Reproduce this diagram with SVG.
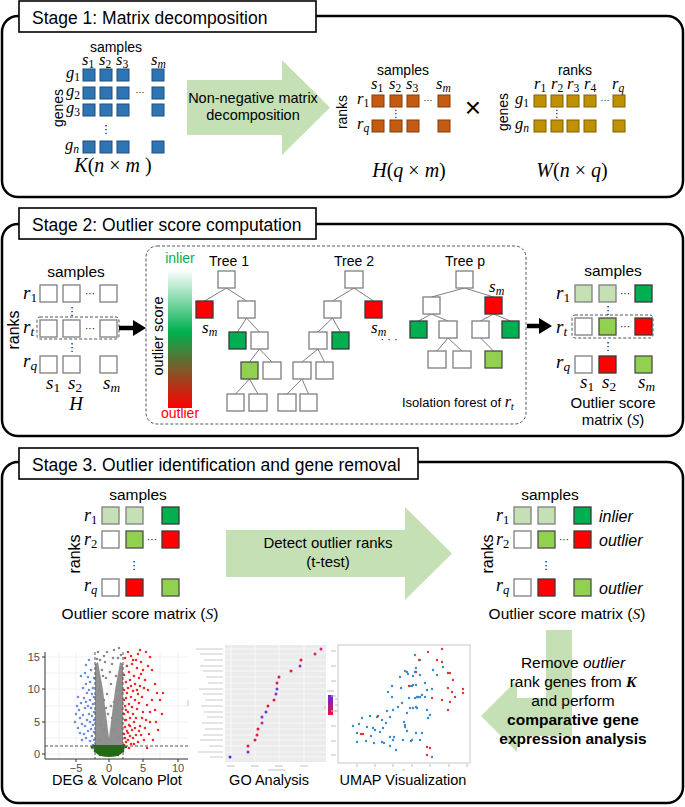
<svg xmlns="http://www.w3.org/2000/svg" width="685" height="807" viewBox="0 0 685 807">
<defs>
<style>
.t{font-family:"Liberation Sans",Arial,sans-serif;fill:#000}
.ttl{font-size:17.5px}
.mth{font-family:"Liberation Serif","Times New Roman",serif;font-style:italic;fill:#000}
.up{font-style:normal}
.sb{font-style:normal;font-size:70%}
.sbi{font-size:70%}
.stage{fill:#fff;stroke:#000;stroke-width:2.5}
.tbox{fill:#fff;stroke:#000;stroke-width:1.6}
.bl{fill:#2e75b6;stroke:#1f4e79;stroke-width:1}
.or{fill:#c55a11;stroke:#843c0c;stroke-width:1}
.gd{fill:#bf9000;stroke:#7f6000;stroke-width:1}
.w{fill:#fff;stroke:#7f7f7f;stroke-width:1.3}
.lg{fill:#c5e0b4;stroke:#7f7f7f;stroke-width:1.3}
.mg{fill:#92d050;stroke:#4d4d4d;stroke-width:1.3}
.dg{fill:#00b050;stroke:#3a3a3a;stroke-width:1.3}
.rd{fill:#ff0000;stroke:#3a3a3a;stroke-width:1.3}
.edge{stroke:#7f7f7f;stroke-width:1;fill:none}
.dash{fill:none;stroke:#555;stroke-width:1;stroke-dasharray:3 2}
.big{fill:#c5e0b4}
.dots{font-family:"DejaVu Sans",sans-serif;fill:#000}
</style>
<linearGradient id="sc" x1="0" y1="0" x2="0" y2="1">
<stop offset="0" stop-color="#ffffff"/>
<stop offset="0.45" stop-color="#00b050"/>
<stop offset="1" stop-color="#ff0000"/>
</linearGradient>
<linearGradient id="leg" x1="0" y1="0" x2="0" y2="1">
<stop offset="0" stop-color="#5b2cf0"/>
<stop offset="1" stop-color="#f01030"/>
</linearGradient>
</defs>
<rect width="685" height="807" fill="#fff"/>

<!-- ============ Stage 1 ============ -->
<g id="stage1">
<rect class="stage" x="2" y="16" width="681" height="181" rx="16"/>
<rect class="tbox" x="19" y="1" width="297" height="31"/>
<text class="t ttl" x="32" y="24">Stage 1: Matrix decomposition</text>
</g>

<g id="matrixK">
<text class="t" x="116" y="52" font-size="14" text-anchor="middle">samples</text>
<g class="mth" font-size="16.5">
<text x="82" y="65">s<tspan class="sb" dy="3">1</tspan></text>
<text x="99" y="65">s<tspan class="sb" dy="3">2</tspan></text>
<text x="116" y="65">s<tspan class="sb" dy="3">3</tspan></text>
<text x="151" y="65">s<tspan class="sbi" dy="3">m</tspan></text>
<text x="66" y="78">g<tspan class="sb" dy="3">1</tspan></text>
<text x="66" y="96">g<tspan class="sb" dy="3">2</tspan></text>
<text x="66" y="113">g<tspan class="sb" dy="3">3</tspan></text>
<text x="65" y="150">g<tspan class="sbi" dy="3">n</tspan></text>
</g>
<text class="t" font-size="14" text-anchor="middle" transform="translate(58,108) rotate(-90)" dy="5">genes</text>
<g>
<rect class="bl" x="83" y="69" width="12" height="12"/><rect class="bl" x="100" y="69" width="12" height="12"/><rect class="bl" x="117" y="69" width="12" height="12"/><rect class="bl" x="152" y="69" width="12" height="12"/>
<rect class="bl" x="83" y="87" width="12" height="12"/><rect class="bl" x="100" y="87" width="12" height="12"/><rect class="bl" x="117" y="87" width="12" height="12"/><rect class="bl" x="152" y="87" width="12" height="12"/>
<rect class="bl" x="83" y="104" width="12" height="12"/><rect class="bl" x="100" y="104" width="12" height="12"/><rect class="bl" x="117" y="104" width="12" height="12"/><rect class="bl" x="152" y="104" width="12" height="12"/>
<rect class="bl" x="83" y="141" width="12" height="12"/><rect class="bl" x="100" y="141" width="12" height="12"/><rect class="bl" x="117" y="141" width="12" height="12"/><rect class="bl" x="152" y="141" width="12" height="12"/>
</g>
<text class="t" x="140" y="95" font-size="9" text-anchor="middle">···</text>
<text class="dots" x="106" y="133" font-size="11" text-anchor="middle">⋮</text>
<text class="mth" x="113" y="172" font-size="20" text-anchor="middle">K<tspan class="up">(</tspan>n<tspan class="up"> × </tspan>m<tspan class="up"> )</tspan></text>
</g>

<g id="nmfArrow">
<path class="big" d="M187 80 L282 80 L282 60 L330 107.5 L282 155 L282 135 L187 135 Z"/>
<text class="t" x="253" y="103" font-size="14.5" text-anchor="middle">Non-negative matrix</text>
<text class="t" x="253" y="120" font-size="14.5" text-anchor="middle">decomposition</text>
</g>

<g id="matrixH">
<text class="t" x="403" y="75" font-size="14" text-anchor="middle">samples</text>
<text class="t" font-size="14" text-anchor="middle" transform="translate(342,112) rotate(-90)" dy="5">ranks</text>
<g class="mth" font-size="16.5">
<text x="371" y="89">s<tspan class="sb" dy="3">1</tspan></text>
<text x="389" y="89">s<tspan class="sb" dy="3">2</tspan></text>
<text x="406" y="89">s<tspan class="sb" dy="3">3</tspan></text>
<text x="436" y="89">s<tspan class="sbi" dy="3">m</tspan></text>
<text x="357" y="104">r<tspan class="sb" dy="3">1</tspan></text>
<text x="357" y="129">r<tspan class="sbi" dy="3">q</tspan></text>
</g>
<rect class="or" x="372" y="95" width="12" height="12"/><rect class="or" x="390" y="95" width="12" height="12"/><rect class="or" x="407" y="95" width="12" height="12"/><rect class="or" x="438" y="95" width="12" height="12"/>
<rect class="or" x="372" y="120" width="12" height="12"/><rect class="or" x="390" y="120" width="12" height="12"/><rect class="or" x="407" y="120" width="12" height="12"/><rect class="or" x="438" y="120" width="12" height="12"/>
<text class="t" x="428" y="103" font-size="9" text-anchor="middle">···</text>
<text class="dots" x="396" y="117" font-size="10" text-anchor="middle">⋮</text>
<text class="mth" x="409" y="177" font-size="20" text-anchor="middle">H<tspan class="up">(</tspan>q<tspan class="up"> × </tspan>m<tspan class="up">)</tspan></text>
</g>

<text class="t" x="473" y="117" font-size="28" text-anchor="middle">×</text>

<g id="matrixW">
<text class="t" x="575" y="75" font-size="14" text-anchor="middle">ranks</text>
<text class="t" font-size="14" text-anchor="middle" transform="translate(503,112) rotate(-90)" dy="5">genes</text>
<g class="mth" font-size="16.5">
<text x="534" y="89">r<tspan class="sb" dy="3">1</tspan></text>
<text x="551" y="89">r<tspan class="sb" dy="3">2</tspan></text>
<text x="567" y="89">r<tspan class="sb" dy="3">3</tspan></text>
<text x="584" y="89">r<tspan class="sb" dy="3">4</tspan></text>
<text x="612" y="89">r<tspan class="sbi" dy="3">q</tspan></text>
<text x="515" y="104">g<tspan class="sb" dy="3">1</tspan></text>
<text x="515" y="129">g<tspan class="sbi" dy="3">n</tspan></text>
</g>
<rect class="gd" x="534" y="95" width="12" height="12"/><rect class="gd" x="551" y="95" width="12" height="12"/><rect class="gd" x="567" y="95" width="12" height="12"/><rect class="gd" x="584" y="95" width="12" height="12"/><rect class="gd" x="613" y="95" width="12" height="12"/>
<rect class="gd" x="534" y="120" width="12" height="12"/><rect class="gd" x="551" y="120" width="12" height="12"/><rect class="gd" x="567" y="120" width="12" height="12"/><rect class="gd" x="584" y="120" width="12" height="12"/><rect class="gd" x="613" y="120" width="12" height="12"/>
<text class="t" x="605" y="103" font-size="9" text-anchor="middle">···</text>
<text class="dots" x="557" y="117" font-size="10" text-anchor="middle">⋮</text>
<text class="mth" x="572" y="177" font-size="20" text-anchor="middle">W<tspan class="up">(</tspan>n<tspan class="up"> × </tspan>q<tspan class="up">)</tspan></text>
</g>

<!-- ============ Stage 2 ============ -->
<g id="stage2">
<rect class="stage" x="2" y="224" width="681" height="212" rx="16"/>
<rect class="tbox" x="19" y="208" width="297" height="31"/>
<text class="t ttl" x="32" y="231">Stage 2: Outlier score computation</text>
</g>

<g id="matrixH2">
<text class="t" x="76" y="277" font-size="15.5" text-anchor="middle">samples</text>
<text class="t" font-size="16" text-anchor="middle" transform="translate(13,330) rotate(-90)" dy="5.5">ranks</text>
<g class="mth" font-size="19">
<text x="23" y="299">r<tspan class="sb" dy="3">1</tspan></text>
<text x="23" y="333">r<tspan class="sbi" dy="3">t</tspan></text>
<text x="23" y="367">r<tspan class="sbi" dy="3">q</tspan></text>
<text x="46" y="389">s<tspan class="sb" dy="3">1</tspan></text>
<text x="68" y="389">s<tspan class="sb" dy="3">2</tspan></text>
<text x="103" y="389">s<tspan class="sbi" dy="3">m</tspan></text>
<text x="76" y="410" text-anchor="middle">H</text>
</g>
<rect class="w" x="40" y="285" width="17" height="17"/><rect class="w" x="63" y="285" width="17" height="17"/><rect class="w" x="100" y="285" width="17" height="17"/>
<rect class="w" x="40" y="320" width="17" height="17"/><rect class="w" x="63" y="320" width="17" height="17"/><rect class="w" x="100" y="320" width="17" height="17"/>
<rect class="w" x="40" y="356" width="17" height="17"/><rect class="w" x="63" y="356" width="17" height="17"/><rect class="w" x="100" y="356" width="17" height="17"/>
<rect class="dash" x="37" y="317" width="82" height="22" rx="3"/>
<text class="t" x="90" y="297" font-size="10" text-anchor="middle">···</text>
<text class="t" x="90" y="332" font-size="10" text-anchor="middle">···</text>
<text class="dots" x="72" y="315" font-size="11" text-anchor="middle">⋮</text>
<text class="dots" x="72" y="351" font-size="11" text-anchor="middle">⋮</text>
</g>

<g id="forest">
<rect class="dash" x="146" y="246" width="380" height="178" rx="11"/>
<rect x="168" y="270" width="24" height="138" fill="url(#sc)"/>
<text class="t" x="180" y="263" font-size="14" text-anchor="middle" style="fill:#00b050">inlier</text>
<text class="t" x="180" y="418" font-size="14" text-anchor="middle" style="fill:#ff0000">outlier</text>
<text class="t" font-size="14.5" text-anchor="middle" transform="translate(158,336) rotate(-90)" dy="5">outlier score</text>
<text class="t" x="229" y="266" font-size="14" text-anchor="middle">Tree 1</text>
<text class="t" x="354" y="266" font-size="14" text-anchor="middle">Tree 2</text>
<text class="t" x="465" y="266" font-size="14" text-anchor="middle">Tree  p</text>
<g class="mth" font-size="17">
<text x="202" y="333">s<tspan class="sbi" dy="3">m</tspan></text>
<text x="371" y="333">s<tspan class="sbi" dy="3">m</tspan></text>
<text x="489" y="292">s<tspan class="sbi" dy="3">m</tspan></text>
</g>
<text class="t" x="389" y="343" font-size="11" text-anchor="middle">· · ·</text>
<text class="t" x="402" y="407" font-size="13">Isolation forest of <tspan class="mth" font-size="16">r<tspan class="sbi" dy="3">t</tspan></tspan></text>
</g>

<g id="treeEdges">
<path class="edge" d="M226.5 288 L204.5 301 M226.5 288 L246.5 301 M246.5 318 L237.5 332 M246.5 318 L259.5 332 M259.5 349 L249.5 362 M259.5 349 L272 362 M249.5 379 L235.5 394 M249.5 379 L258 394"/>
<path class="edge" d="M354 288 L332.5 301 M354 288 L373.5 301 M332.5 318 L318 332 M332.5 318 L340.5 332 M318 349 L302 362 M318 349 L324.5 362 M302 379 L287 394 M302 379 L308.5 394"/>
<path class="edge" d="M464.5 288 L431.5 297 M464.5 288 L493.5 297 M431.5 314 L418.5 321 M431.5 314 L448 321 M493.5 314 L480.5 321 M493.5 314 L510.5 321 M448 338 L437 351 M448 338 L462 351 M480.5 338 L493.5 351"/>
</g>

<g id="tree1">
<rect class="w" x="218" y="271" width="17" height="17"/>
<rect class="rd" x="196" y="301" width="17" height="17"/>
<rect class="w" x="238" y="301" width="17" height="17"/>
<rect class="dg" x="229" y="332" width="17" height="17"/>
<rect class="w" x="251" y="332" width="17" height="17"/>
<rect class="mg" x="241" y="362" width="17" height="17"/>
<rect class="w" x="263" y="362" width="18" height="17"/>
<rect class="w" x="227" y="394" width="17" height="17"/>
<rect class="w" x="249" y="394" width="18" height="17"/>
</g>
<g id="tree2">
<rect class="w" x="345" y="271" width="18" height="17"/>
<rect class="w" x="324" y="301" width="17" height="17"/>
<rect class="rd" x="365" y="301" width="17" height="17"/>
<rect class="w" x="309" y="332" width="18" height="17"/>
<rect class="dg" x="332" y="332" width="17" height="17"/>
<rect class="w" x="293" y="362" width="18" height="17"/>
<rect class="w" x="316" y="362" width="17" height="17"/>
<rect class="w" x="278" y="394" width="18" height="17"/>
<rect class="w" x="300" y="394" width="17" height="17"/>
</g>
<g id="treeP">
<rect class="w" x="456" y="271" width="17" height="17"/>
<rect class="w" x="423" y="297" width="17" height="17"/>
<rect class="rd" x="485" y="297" width="17" height="17"/>
<rect class="dg" x="410" y="321" width="17" height="17"/>
<rect class="w" x="439" y="321" width="18" height="17"/>
<rect class="w" x="472" y="321" width="17" height="17"/>
<rect class="dg" x="502" y="321" width="17" height="17"/>
<rect class="w" x="428" y="351" width="18" height="17"/>
<rect class="w" x="453" y="351" width="18" height="17"/>
<rect class="mg" x="485" y="351" width="17" height="17"/>
</g>

<g id="connectors">
<line x1="119" y1="328" x2="135" y2="328" stroke="#000" stroke-width="4.5"/>
<polygon points="133,320 146,328 133,336" fill="#000"/>
<line x1="527" y1="326" x2="541" y2="326" stroke="#000" stroke-width="4.5"/>
<polygon points="539,318 552,326 539,334" fill="#000"/>
</g>

<g id="matrixS">
<text class="t" x="613" y="276" font-size="15.5" text-anchor="middle">samples</text>
<g class="mth" font-size="19">
<text x="556" y="299">r<tspan class="sb" dy="3">1</tspan></text>
<text x="556" y="333">r<tspan class="sbi" dy="3">t</tspan></text>
<text x="556" y="368">r<tspan class="sbi" dy="3">q</tspan></text>
<text x="580" y="388">s<tspan class="sb" dy="2.5">1</tspan></text>
<text x="602" y="388">s<tspan class="sb" dy="2.5">2</tspan></text>
<text x="638" y="388">s<tspan class="sbi" dy="2.5">m</tspan></text>
</g>
<rect class="lg" x="575" y="285" width="17" height="17"/><rect class="lg" x="599" y="285" width="17" height="17"/><rect class="dg" x="635" y="285" width="17" height="17"/>
<rect class="w" x="575" y="318" width="17" height="17"/><rect class="mg" x="599" y="318" width="17" height="17"/><rect class="rd" x="635" y="318" width="17" height="17"/>
<rect class="w" x="575" y="356" width="17" height="17"/><rect class="rd" x="599" y="356" width="17" height="17"/><rect class="mg" x="635" y="356" width="17" height="17"/>
<rect class="dash" x="572" y="315" width="81" height="23" rx="3"/>
<text class="t" x="625" y="297" font-size="10" text-anchor="middle">···</text>
<text class="t" x="625" y="330" font-size="10" text-anchor="middle">···</text>
<text class="dots" x="608" y="314" font-size="11" text-anchor="middle">⋮</text>
<text class="dots" x="608" y="350" font-size="11" text-anchor="middle">⋮</text>
<text class="t" x="613" y="408" font-size="15" text-anchor="middle">Outlier score</text>
<text class="t" x="613" y="425" font-size="15" text-anchor="middle">matrix (<tspan class="mth">S</tspan>)</text>
</g>

<!-- ============ Stage 3 ============ -->
<g id="stage3">
<rect class="stage" x="2" y="462" width="681" height="341" rx="16"/>
<rect class="tbox" x="19" y="448" width="399" height="31"/>
<text class="t ttl" x="32" y="471">Stage 3. Outlier identification and gene removal</text>
</g>

<g id="matrixS_left">
<text class="t" x="138" y="500" font-size="15.5" text-anchor="middle">samples</text>
<text class="t" font-size="16" text-anchor="middle" transform="translate(74,554) rotate(-90)" dy="5.5">ranks</text>
<g class="mth" font-size="18">
<text x="84" y="521">r<tspan class="sb" dy="3">1</tspan></text>
<text x="84" y="545">r<tspan class="sb" dy="3">2</tspan></text>
<text x="84" y="591">r<tspan class="sbi" dy="3">q</tspan></text>
</g>
<rect class="lg" x="102" y="507" width="17" height="17"/><rect class="lg" x="126" y="507" width="17" height="17"/><rect class="dg" x="162" y="507" width="17" height="17"/>
<rect class="w" x="102" y="531" width="17" height="17"/><rect class="mg" x="126" y="531" width="17" height="17"/><rect class="rd" x="162" y="531" width="17" height="17"/>
<rect class="w" x="102" y="579" width="17" height="17"/><rect class="rd" x="126" y="579" width="17" height="17"/><rect class="mg" x="162" y="579" width="17" height="17"/>
<text class="t" x="152" y="543" font-size="10" text-anchor="middle">···</text>
<text class="dots" x="134" y="569" font-size="11" text-anchor="middle">⋮</text>
<text class="t" x="140" y="619" font-size="15.5" text-anchor="middle">Outlier score matrix (<tspan class="mth">S</tspan>)</text>
</g>

<g id="detectArrow">
<path class="big" d="M226 530 L405 530 L405 507 L452 553.5 L405 600 L405 577 L226 577 Z"/>
<text class="t" x="328" y="548" font-size="15" text-anchor="middle">Detect outlier ranks</text>
<text class="t" x="328" y="567" font-size="15" text-anchor="middle">(t-test)</text>
</g>

<g id="matrixS_right">
<text class="t" x="550" y="500" font-size="15.5" text-anchor="middle">samples</text>
<text class="t" font-size="16" text-anchor="middle" transform="translate(487,554) rotate(-90)" dy="5.5">ranks</text>
<g class="mth" font-size="18">
<text x="496" y="521">r<tspan class="sb" dy="3">1</tspan></text>
<text x="496" y="545">r<tspan class="sb" dy="3">2</tspan></text>
<text x="496" y="591">r<tspan class="sbi" dy="3">q</tspan></text>
</g>
<rect class="lg" x="514" y="507" width="17" height="17"/><rect class="lg" x="538" y="507" width="17" height="17"/><rect class="dg" x="574" y="507" width="17" height="17"/>
<rect class="w" x="514" y="531" width="17" height="17"/><rect class="mg" x="538" y="531" width="17" height="17"/><rect class="rd" x="574" y="531" width="17" height="17"/>
<rect class="w" x="514" y="579" width="17" height="17"/><rect class="rd" x="538" y="579" width="17" height="17"/><rect class="mg" x="574" y="579" width="17" height="17"/>
<text class="t" x="564" y="543" font-size="10" text-anchor="middle">···</text>
<text class="dots" x="546" y="569" font-size="11" text-anchor="middle">⋮</text>
<text class="t" x="599" y="522" font-size="16" font-style="italic">inlier</text>
<text class="t" x="599" y="546" font-size="16" font-style="italic">outlier</text>
<text class="t" x="599" y="594" font-size="16" font-style="italic">outlier</text>
<text class="t" x="567" y="619" font-size="15.5" text-anchor="middle">Outlier score matrix (<tspan class="mth">S</tspan>)</text>
</g>

<g id="removeArrow">
<path class="big" d="M546 630 L572 630 L572 736 L517 736 L517 752 L481 716 L517 680 L517 698 L546 698 Z"/>
<text class="t" x="573" y="668" font-size="15.5" text-anchor="middle">Remove <tspan font-style="italic">outlier</tspan></text>
<text class="t" x="573" y="687" font-size="15.5" text-anchor="middle">rank genes from <tspan class="mth" font-weight="bold">K</tspan></text>
<text class="t" x="573" y="706" font-size="15.5" text-anchor="middle">and perform</text>
<text class="t" x="573" y="725" font-size="15.5" text-anchor="middle" font-weight="bold">comparative gene</text>
<text class="t" x="573" y="744" font-size="15.5" text-anchor="middle" font-weight="bold">expression analysis</text>
</g>

<g id="volcano">
<g stroke="#ececec" stroke-width="0.8">
<path d="M59 652V759M76 652V759M92 652V759M109 652V759M126 652V759M143 652V759M160 652V759M178 652V759M45 657H188M45 673H188M45 689H188M45 706H188M45 722H188M45 738H188M45 754H188"/>
</g>
<path d="M95 664 L98 662 L103 690 L109 738 L115 690 L120 662 L123 664 L123 746 L95 746 Z" fill="#909090"/>
<path d="M100 660h0M104 656h0M98 652h0M107 652h0M114 650h0M118 658h0M112 664h0M102 670h0M116 676h0M106 678h0M111 684h0M104 700h0M114 702h0M108 714h0M101 725h0M117 720h0M97 659h0M121 655h0M119 648h0M100 682h0M118 690h0M107 694h0M111 706h0M105 662h0M113 658h0M96 666h0M122 668h0M110 672h0M103 676h0M99 690h0M119 700h0M106 708h0M112 718h0M104 730h0M114 730h0M100 740h0M118 738h0" stroke="#8a8a8a" stroke-width="2.6" stroke-linecap="round" fill="none"/>
<path d="M93 745h0M94 740h0M92 736h0M94 732h0M91 729h0M93 725h0M94 720h0M90 722h0M92 716h0M94 712h0M89 714h0M91 708h0M93 704h0M88 706h0M90 700h0M94 697h0M86 702h0M92 694h0M89 690h0M84 698h0M87 693h0M85 708h0M83 715h0M87 720h0M85 726h0M88 731h0M86 738h0M90 741h0M84 734h0M82 724h0M80 718h0M79 710h0M81 703h0M83 688h0M86 684h0M90 682h0M88 677h0M85 673h0M93 688h0M78 697h0M77 706h0M76 714h0M75 722h0M91 670h0M94 678h0M82 740h0M80 733h0M92 748h0M81 676h0M78 728h0M89 660h0M86 665h0" stroke="#6b8fdc" stroke-width="2.6" stroke-linecap="round" fill="none"/>
<path d="M124 745h0M126 742h0M125 738h0M128 740h0M124 734h0M127 731h0M130 736h0M125 727h0M129 725h0M132 730h0M126 720h0M130 718h0M134 722h0M124 714h0M128 712h0M133 714h0M136 718h0M125 706h0M129 704h0M132 707h0M137 709h0M126 698h0M131 697h0M135 700h0M139 703h0M124 690h0M128 688h0M133 691h0M138 694h0M142 697h0M126 682h0M130 680h0M135 684h0M140 686h0M124 675h0M129 672h0M134 676h0M139 678h0M145 680h0M127 666h0M132 664h0M137 668h0M143 670h0M125 658h0M131 656h0M136 660h0M141 662h0M128 652h0M138 654h0M140 650h0M146 652h0M150 657h0M148 666h0M144 688h0M147 705h0M143 712h0M140 726h0M146 720h0M150 712h0M152 700h0M155 684h0M157 693h0M152 670h0M160 700h0M156 722h0M149 734h0M144 740h0M138 742h0M134 744h0M158 730h0M162 714h0M147 748h0M141 735h0M135 728h0M131 744h0M129 748h0M153 740h0M163 693h0M155 710h0M127 693h0M131 686h0M126 710h0M130 726h0M136 735h0M142 718h0M137 690h0M124 700h0M125 720h0M128 733h0M133 738h0M139 731h0M145 728h0M150 722h0M148 690h0M141 674h0M133 660h0" stroke="#f02828" stroke-width="2.6" stroke-linecap="round" fill="none"/>
<path d="M93 745 L125 745 Q125 757 109 757 Q93 757 93 745 Z" fill="#236b12"/>
<path d="M92 747h0M126 747h0M95 751h0M123 751h0M100 755h0M118 755h0" stroke="#236b12" stroke-width="2.6" stroke-linecap="round" fill="none"/>
<path class="dash" d="M95 652V759M123 652V759M45 746H188"/>
<path d="M45 652V759H188" fill="none" stroke="#333" stroke-width="1"/>
<path d="M42 657H45M42 689H45M42 722H45M42 754H45M76 759V762M109 759V762M143 759V762M178 759V762" stroke="#333" stroke-width="1"/>
<g class="t" font-size="11" style="fill:#4d4d4d" text-anchor="end">
<text x="40" y="661">15</text><text x="40" y="693">10</text><text x="40" y="726">5</text><text x="40" y="758">0</text>
</g>
<g class="t" font-size="11" style="fill:#4d4d4d" text-anchor="middle">
<text x="76" y="772">−5</text><text x="109" y="772">0</text><text x="143" y="772">5</text><text x="178" y="772">10</text>
</g>
<text class="t" x="117" y="785" font-size="14.5" text-anchor="middle">DEG &amp; Volcano Plot</text>
</g>

<g id="goPlot">
<rect x="225" y="645" width="101" height="117" fill="#ebebeb"/>
<path d="M231 645V762M255 645V762M279 645V762M304 645V762M225 649H326M225 654H326M225 660H326M225 666H326M225 671H326M225 677H326M225 683H326M225 689H326M225 694H326M225 700H326M225 706H326M225 712H326M225 717H326M225 723H326M225 729H326M225 735H326M225 740H326M225 746H326M225 752H326M225 757H326" stroke="#fff" stroke-width="0.6"/>
<path d="M196 649H223M200 654H223M204 660H223M200 666H223M203 671H223M206 677H223M208 683H223M199 689H223M203 694H223M205 700H223M201 706H223M204 712H223M207 717H223M202 723H223M205 729H223M203 735H223M200 740H223M209 746H223M198 752H223M210 757H223M188 700V706" stroke="#c4c4c4" stroke-width="0.9"/>
<path d="M227 766H235M251 766H259M275 766H283M300 766H308M268 770H285" stroke="#c0c0c0" stroke-width="1"/>
<g stroke-width="3" stroke-linecap="round">
<path d="M321 649h0" stroke="#c03090"/><path d="M315 654h0" stroke="#d02080"/><path d="M301 660h0" stroke="#e81838"/><path d="M300 666h0" stroke="#9030d0"/><path d="M291 671h0" stroke="#e81838"/><path d="M279 677h0" stroke="#e81838"/><path d="M277 683h0" stroke="#d8204a"/><path d="M277 689h0" stroke="#6040e0"/><path d="M276 694h0" stroke="#8030d0"/><path d="M274 700h0" stroke="#e81838"/><path d="M268 706h0" stroke="#e81838"/><path d="M266 712h0" stroke="#5040e8"/><path d="M262 717h0" stroke="#9030c8"/><path d="M262 723h0" stroke="#a030b8"/><path d="M258 729h0" stroke="#e81838"/><path d="M257 735h0" stroke="#e02040"/><path d="M255 740h0" stroke="#e81838"/><path d="M248 746h0" stroke="#e81838"/><path d="M248 752h0" stroke="#7030e0"/><path d="M230 757h0" stroke="#4030f0"/>
</g>
<rect x="328" y="695" width="5" height="20" fill="url(#leg)"/>
<path d="M327 691H334M335 699H339M335 705H339M335 711H339" stroke="#bbb" stroke-width="1"/>
<text class="t" x="269" y="785" font-size="14.5" text-anchor="middle">GO Analysis</text>
</g>

<g id="umap">
<rect x="338" y="645" width="132" height="118" fill="#fff" stroke="#c8c8c8" stroke-width="1"/>
<path d="M331 651H336M331 666H336M331 681H336M331 696H336M331 711H336M331 726H336M331 741H336M331 755H336M357 764V767M375 764V767M393 764V767M412 764V767M430 764V767M449 764V767M467 764V767M325 706V709M402 770H405" stroke="#bdbdbd" stroke-width="1"/>
<path d="M353 726h0M359 724h0M357 733h0M357 742h0M371 736h0M367 727h0M370 716h0M377 717h0M375 730h0M373 728h0M380 732h0M382 720h0M386 723h0M383 728h0M390 717h0M387 711h0M393 710h0M398 707h0M402 703h0M388 692h0M392 686h0M392 697h0M401 688h0M400 677h0M405 671h0M407 672h0M412 686h0M413 676h0M416 668h0M416 685h0M415 698h0M409 698h0M410 708h0M416 707h0M418 697h0M417 708h0M404 722h0M405 727h0M403 740h0M411 741h0M393 740h0M394 737h0M390 737h0M382 742h0M384 743h0M390 746h0M374 743h0M407 731h0M415 672h0M420 660h0M433 670h0M443 667h0M427 690h0M437 675h0M425 683h0M413 685h0M410 686h0M417 697h0M420 697h0M422 695h0M425 697h0M413 708h0M417 708h0M427 710h0M430 715h0M428 718h0M407 713h0M405 725h0M416 733h0M422 733h0M420 740h0M412 740h0M432 757h0M432 689h0M420 675h0M408 674h0M415 655h0M362 718h0M366 741h0M396 750h0" stroke="#3b8bd0" stroke-width="2.4" stroke-linecap="round" fill="none"/>
<path d="M363 734h0M378 716h0M409 686h0M416 672h0M419 660h0M428 652h0M442 649h0M437 660h0M442 662h0M448 673h0M450 673h0M453 680h0M448 688h0M452 692h0M455 697h0M463 689h0M463 693h0M442 700h0M450 702h0M448 710h0M432 698h0M427 747h0M430 748h0M427 755h0M361 734h0" stroke="#e03838" stroke-width="2.4" stroke-linecap="round" fill="none"/>
<text class="t" x="403" y="785" font-size="14.5" text-anchor="middle">UMAP Visualization</text>
</g>
</svg>
